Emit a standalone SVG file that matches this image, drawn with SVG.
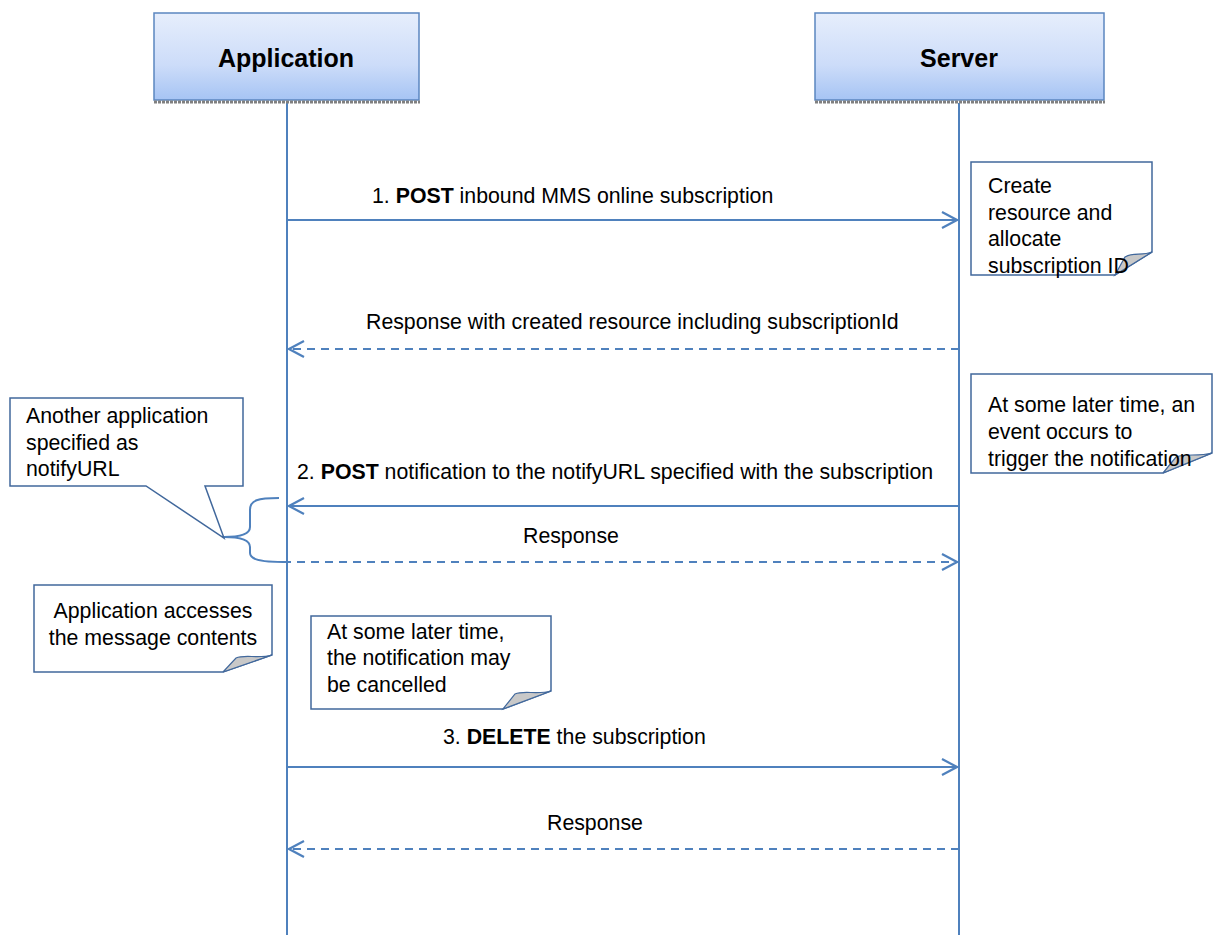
<svg xmlns="http://www.w3.org/2000/svg" width="1213" height="935" viewBox="0 0 1213 935">
<defs>
<linearGradient id="hdr" x1="0" y1="0" x2="0" y2="1">
<stop offset="0" stop-color="#E6EEFC"/>
<stop offset="0.6" stop-color="#CCDCF9"/>
<stop offset="1" stop-color="#A6C4F4"/>
</linearGradient>
<marker id="open" markerWidth="18" markerHeight="20" refX="16" refY="10" orient="auto" markerUnits="userSpaceOnUse">
<path d="M1,2 L16,10 L1,18" fill="none" stroke="#4F81BD" stroke-width="2.2"/>
</marker>
</defs>
<style>
.hdr{fill:url(#hdr);stroke:#5B86C0;stroke-width:1.5}
.shadow{stroke:#808080;stroke-width:3;stroke-dasharray:3 1}
.title{font-family:"Liberation Sans",Arial,sans-serif;font-size:25px;font-weight:bold;fill:#000;text-anchor:middle}
.life{stroke:#4F81BD;stroke-width:2;fill:none}
.msg{stroke:#4F81BD;stroke-width:2.2;fill:none;marker-end:url(#open)}
.dash{stroke-dasharray:8 6}
.t{font-family:"Liberation Sans",Arial,sans-serif;font-size:21.3px;fill:#000}
.b{font-weight:bold}
.note{fill:#fff;stroke:#41689C;stroke-width:1.5}
.curl{fill:#C8C8C8;stroke:#41689C;stroke-width:1.2}
</style>
<rect width="1213" height="935" fill="#fff"/>

<g id="lifelines">
<line class="life" x1="287" y1="103" x2="287" y2="935"/>
<line class="life" x1="959" y1="103" x2="959" y2="935"/>
</g>

<g id="application">
<rect class="hdr" x="154" y="13" width="265" height="87"/>
<line class="shadow" x1="154" y1="102" x2="420" y2="102"/>
<text class="title" x="286" y="67">Application</text>
</g>

<g id="server">
<rect class="hdr" x="815" y="13" width="289" height="87"/>
<line class="shadow" x1="815" y1="102" x2="1105" y2="102"/>
<text class="title" x="959" y="67">Server</text>
</g>

<g id="connectors">
<line class="msg" x1="287" y1="220" x2="957" y2="220"/>
<line class="msg dash" x1="959" y1="349" x2="289" y2="349"/>
<line class="msg" x1="959" y1="506" x2="289" y2="506"/>
<line class="msg dash" x1="283" y1="562" x2="957" y2="562"/>
<line class="msg" x1="287" y1="767" x2="957" y2="767"/>
<line class="msg dash" x1="959" y1="849" x2="289" y2="849"/>
<path class="life" d="M279,498 C258,498 250,500 250,510 L250,527 C250,534 240,537 224,537 C240,537 250,540 250,547 L250,553 C250,560 262,562 283,562"/>
</g>

<g id="labels">
<text class="t" x="372" y="203">1. <tspan class="b">POST</tspan> inbound MMS online subscription</text>
<text class="t" x="366" y="329">Response with created resource including subscriptionId</text>
<text class="t" x="297" y="479">2. <tspan class="b">POST</tspan> notification to the notifyURL specified with the subscription</text>
<text class="t" x="523" y="543">Response</text>
<text class="t" x="443" y="744">3. <tspan class="b">DELETE</tspan> the subscription</text>
<text class="t" x="547" y="830">Response</text>
</g>

<g id="note-create">
<path class="note" d="M971,162 H1152 V252 L1115,275 H971 Z"/>
<path class="curl" d="M1152,252 C1142,256 1132,252 1125,257 L1115,275 Z"/>
<text class="t" x="988" y="193">Create</text>
<text class="t" x="988" y="220">resource and</text>
<text class="t" x="988" y="246">allocate</text>
<text class="t" x="988" y="273">subscription ID</text>
</g>

<g id="note-event">
<path class="note" d="M971,374 H1212 V453 L1163,473 H971 Z"/>
<path class="curl" d="M1212,453 C1198,457 1185,453 1176,457 L1163,473 Z"/>
<text class="t" x="988" y="412">At some later time, an</text>
<text class="t" x="988" y="439">event occurs to</text>
<text class="t" x="988" y="466">trigger the notification</text>
</g>

<g id="callout-notify">
<path class="note" d="M10,398 H243 V486 H205 L224,538 L146,486 H10 Z"/>
<text class="t" x="26" y="423">Another application</text>
<text class="t" x="26" y="450">specified as</text>
<text class="t" x="26" y="476">notifyURL</text>
</g>

<g id="note-access">
<path class="note" d="M34,585 H272 V655 L223,672 H34 Z"/>
<path class="curl" d="M272,655 C258,659 245,654 236,658 L223,672 Z"/>
<text class="t" x="153" y="618" text-anchor="middle">Application accesses</text>
<text class="t" x="153" y="645" text-anchor="middle">the message contents</text>
</g>

<g id="note-cancel">
<path class="note" d="M311,616 H551 V691 L503,709 H311 Z"/>
<path class="curl" d="M551,691 C537,695 524,690 515,694 L503,709 Z"/>
<text class="t" x="327" y="639">At some later time,</text>
<text class="t" x="327" y="665">the notification may</text>
<text class="t" x="327" y="692">be cancelled</text>
</g>
</svg>
